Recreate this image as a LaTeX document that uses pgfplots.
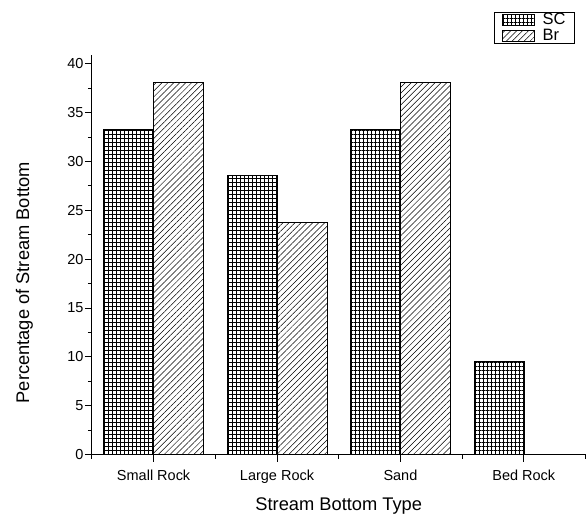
\documentclass[border=0pt]{standalone}
\usepackage{pgfplots}
\pgfplotsset{compat=1.18}
\usetikzlibrary{patterns.meta}
\usepackage{fontspec}
\setmainfont{Liberation Sans}
\begin{document}
\begin{tikzpicture}
\path (-92bp,-60bp) rectangle (494bp,455bp);
\begin{axis}[
  at={(0,0)}, anchor=south west,
  scale only axis, width=494bp, height=400bp,
  xmin=-0.5, xmax=3.5, ymin=0, ymax=40.9,
  axis x line*=bottom, axis y line*=left,
  axis line style={-, line width=0.9bp},
  xtick={0,1,2,3},
  xticklabels={Small Rock, Large Rock, Sand, Bed Rock},
  minor xtick={-0.5,0.5,1.5,2.5,3.5},
  ytick={0,5,...,40},
  minor ytick={2.5,7.5,...,37.5},
  tick align=outside,
  major tick length=7bp, minor tick length=4bp,
  every tick/.style={black, line width=0.9bp},
  /pgf/number format/assume math mode=true,
  ticklabel style={font=\fontsize{14.5bp}{16bp}\selectfont},
  xticklabel style={yshift=-5bp},
  yticklabel style={xshift=2bp},
  label style={font=\fontsize{18.3bp}{20bp}\selectfont},
  xlabel={Stream Bottom Type},
  ylabel={Percentage of Stream Bottom},
  xlabel style={at={(axis description cs:0.5,-0.14)}, anchor=base},
  ylabel style={at={(axis description cs:-0.137,0.43)}, anchor=center},
  ybar=0pt, bar width=50bp,
  legend style={at={(axis description cs:0.814,1.1075)}, anchor=north west,
    draw=black, line width=0.6bp, font=\fontsize{16.5bp}{18bp}\selectfont,
    inner xsep=8bp, inner ysep=1bp, row sep=2bp, column sep=7bp,
    nodes={inner sep=1bp, text height=10.5bp, text depth=1bp},
    cells={anchor=west}},
  legend image code/.code={\draw[#1, line width=0.6bp] (0bp,-5.5bp) rectangle (32bp,5.5bp);},
]
\addplot[draw=black, line width=0.7bp, pattern={Hatch[angle=0,distance=4bp,line width=0.5bp]}]
  coordinates {(0,33.3) (1,28.6) (2,33.3) (3,9.5)};
\addplot[draw=black, line width=0.7bp, pattern={Lines[angle=45,distance=4.2bp,line width=0.5bp]}]
  coordinates {(0,38.1) (1,23.8) (2,38.1) (3,0)};
\legend{SC, Br}
\end{axis}
\end{tikzpicture}
\end{document}
